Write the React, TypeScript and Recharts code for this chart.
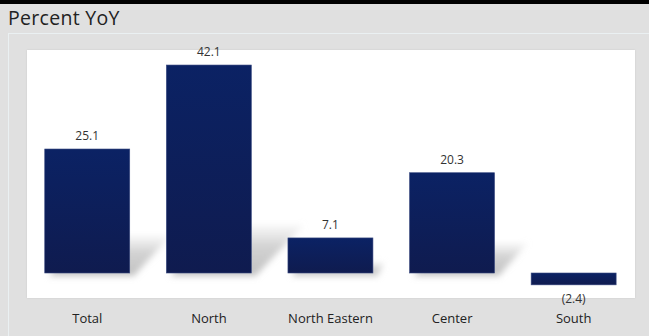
import React from "react";
import { BarChart, Bar, XAxis, YAxis, LabelList } from "recharts";

const regions = ["Total", "North", "North Eastern", "Center", "South"];
const yoy = [25.1, 42.1, 7.1, 20.3, -2.4];

const chartData = regions.map((r, i) => ({ region: r, yoy: yoy[i] }));

const fmt = (v: number) => (v < 0 ? `(${Math.abs(v).toFixed(1)})` : v.toFixed(1));

function ShadowBar(props: any) {
  const { x, y, width, height, value } = props;
  const top = Math.min(y, y + height);
  const h = Math.abs(height);
  const positive = value >= 0;
  const base = top + h;
  const d = Math.min(h * 0.3, 48);
  return (
    <g>
      {positive && (
        <polygon
          points={`${x + 4},${base + 3} ${x + width + 4},${base + 3} ${x + width + d * 1.1},${base - d} ${x + d},${base - d}`}
          fill="url(#shadowGrad)"
          filter="url(#blurShadow)"
        />
      )}
      <rect x={x} y={top} width={width} height={h} fill="url(#barGrad)" stroke="#3a4a80" strokeWidth={0.6} />
    </g>
  );
}

function ValueLabel(props: any) {
  const { x, y, width, height, value } = props;
  const top = Math.min(y, y + height);
  const h = Math.abs(height);
  const ty = value >= 0 ? top - 9 : top + h + 18;
  return (
    <text x={x + width / 2} y={ty} textAnchor="middle" fontSize={12} fill="#333" fontFamily="Open Sans">
      {fmt(value)}
    </text>
  );
}

function CatTick(props: any) {
  const { x, y, payload } = props;
  return (
    <text x={x} y={y + 17} textAnchor="middle" fontSize={13} fill="#222" fontFamily="Open Sans">
      {payload.value}
    </text>
  );
}

export default function App() {
  return (
    <div style={{ position: "absolute", left: 0, top: 0, width: 649, height: 336, background: "#e0e0e0", overflow: "hidden" }}>
      <div style={{ position: "absolute", left: 0, top: 0, width: 649, height: 4, background: "#000" }} />
      <div
        style={{ position: "absolute", left: 8, top: 6, fontFamily: "Open Sans", fontSize: 19.5, color: "#222", lineHeight: "24px", letterSpacing: 0.3 }}
      >
        Percent YoY
      </div>
      <div
        style={{ position: "absolute", left: 8, top: 33, width: 641, height: 303, borderTop: "1px solid #eaf0f2", borderLeft: "1px solid #eaf0f2" }}
      />
      <div
        style={{ position: "absolute", left: 27, top: 50, width: 608, height: 248, background: "#fff", boxShadow: "0 0 2px rgba(0,0,0,0.1)" }}
      />
      <div style={{ position: "absolute", left: 0, top: 0 }}>
        <BarChart
          width={649}
          height={336}
          data={chartData}
          margin={{ top: 50.7, right: 14.5, left: 26.5, bottom: 8 }}
          barCategoryGap="15%"
        >
          <defs>
            <linearGradient id="barGrad" x1="0" y1="0" x2="0" y2="1">
              <stop offset="0%" stopColor="#0b2264" />
              <stop offset="100%" stopColor="#0f1b4f" />
            </linearGradient>
            <linearGradient id="shadowGrad" x1="0" y1="1" x2="0" y2="0">
              <stop offset="0%" stopColor="#bdbdbd" stopOpacity={0.95} />
              <stop offset="60%" stopColor="#c8c8c8" stopOpacity={0.8} />
              <stop offset="100%" stopColor="#d8d8d8" stopOpacity={0.2} />
            </linearGradient>
            <filter id="blurShadow" x="-50%" y="-50%" width="200%" height="200%">
              <feGaussianBlur stdDeviation="3" />
            </filter>
          </defs>
          <XAxis dataKey="region" axisLine={false} tickLine={false} height={30.3} tick={<CatTick />} interval={0} />
          <YAxis hide domain={[-5, 45]} />
          <Bar dataKey="yoy" isAnimationActive={false} shape={<ShadowBar />}>
            <LabelList dataKey="yoy" content={<ValueLabel />} />
          </Bar>
        </BarChart>
      </div>
    </div>
  );
}
